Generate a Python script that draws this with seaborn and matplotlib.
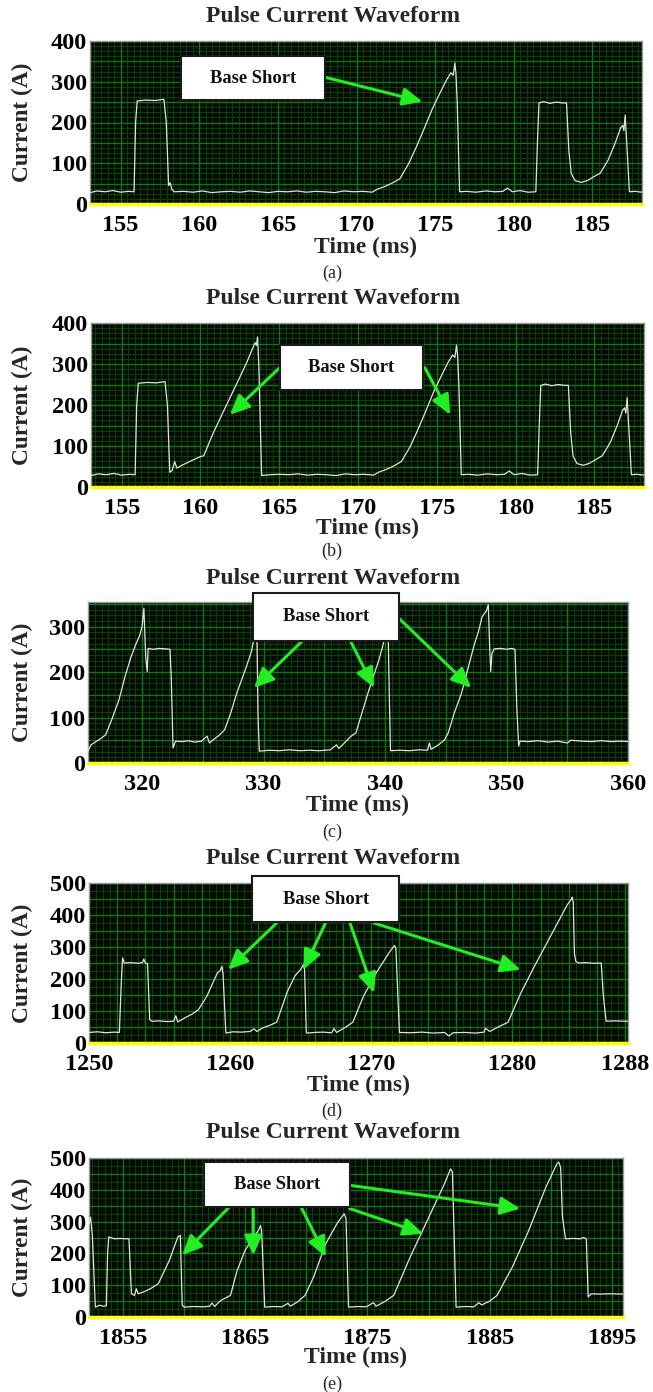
import numpy as np
import matplotlib
matplotlib.use("Agg")
import matplotlib.pyplot as plt
from matplotlib.patches import Rectangle
import seaborn as sns

# ---------------- data ----------------
t_a = [
    153.05, 153.5, 154.0, 154.5, 155.0, 155.5, 155.85, 155.95, 156.05, 156.6,
    157.2, 157.75, 157.9, 158.05, 158.15, 158.25, 158.4, 159.0, 159.6, 160.2,
    160.8, 161.4, 162.0, 162.6, 163.2, 163.8, 164.4, 165.0, 165.6, 166.2,
    166.8, 167.4, 168.0, 168.6, 169.2, 169.8, 170.4, 171.0, 171.3, 171.8,
    172.3, 172.75, 173.3, 173.8, 174.3, 174.8, 175.3, 175.7, 176.0, 176.15,
    176.25, 176.32, 176.4, 176.55, 177.0, 177.6, 178.2, 178.8, 179.3, 179.6,
    179.9, 180.4, 180.9, 181.4, 181.5, 181.6, 181.9, 182.3, 182.7, 183.1,
    183.35, 183.5, 183.65, 183.9, 184.3, 184.7, 185.0, 185.5, 186.0, 186.45,
    186.8, 186.92, 187.0, 187.08, 187.15, 187.35, 187.7, 188.15,
]
i_a = [
    28, 32, 30, 33, 29, 31, 30, 200, 253, 255,
    254, 257, 200, 45, 52, 36, 30, 31, 29, 32,
    28, 30, 31, 29, 32, 30, 28, 31, 30, 32,
    29, 31, 30, 28, 32, 30, 31, 29, 36, 43,
    52, 62, 98, 140, 185, 232, 272, 303, 322, 316,
    346, 320, 250, 30, 31, 29, 32, 30, 31, 39,
    30, 33, 29, 30, 150, 248, 251, 247, 250, 248,
    248, 130, 75, 57, 53, 58, 65, 76, 108, 150,
    188, 193, 180, 218, 170, 30, 31, 29,
]

t_b = [
    153.05, 153.5, 154.0, 154.5, 155.0, 155.5, 155.85, 155.95, 156.05, 156.6,
    157.2, 157.75, 157.9, 158.05, 158.2, 158.36, 158.5, 158.77, 159.3, 159.98,
    160.2, 160.8, 161.6, 162.4, 162.95, 163.35, 163.47, 163.55, 163.62, 163.7,
    163.88, 164.4, 165.0, 165.6, 166.2, 166.8, 167.4, 168.0, 168.6, 169.2,
    169.8, 170.4, 171.0, 171.3, 171.8, 172.3, 172.75, 173.3, 173.8, 174.3,
    174.8, 175.3, 175.7, 176.0, 176.15, 176.25, 176.32, 176.4, 176.55, 177.0,
    177.6, 178.2, 178.8, 179.3, 179.6, 179.9, 180.4, 180.9, 181.4, 181.5,
    181.6, 181.9, 182.3, 182.7, 183.1, 183.35, 183.5, 183.65, 183.9, 184.3,
    184.7, 185.0, 185.5, 186.0, 186.45, 186.8, 186.92, 187.0, 187.08, 187.15,
    187.35, 187.7, 188.15,
]
i_b = [
    28, 32, 30, 33, 29, 31, 30, 200, 253, 255,
    254, 257, 200, 36, 40, 62, 46, 52, 62, 74,
    76, 131, 196, 260, 305, 342, 352, 345, 366, 300,
    28, 30, 31, 30, 32, 29, 31, 30, 28, 32,
    30, 31, 29, 36, 43, 52, 62, 98, 140, 185,
    232, 272, 303, 322, 316, 346, 320, 250, 30, 31,
    29, 32, 30, 31, 39, 30, 33, 29, 30, 150,
    248, 251, 247, 250, 248, 248, 130, 75, 57, 53,
    58, 65, 76, 108, 150, 188, 193, 180, 218, 170,
    30, 31, 29,
]

t_c = [
    315.55, 315.8, 316.5, 317.0, 317.5, 318.1, 318.6, 319.1, 319.5, 319.8,
    320.0, 320.15, 320.3, 320.42, 320.5, 320.9, 321.4, 321.9, 322.3, 322.4,
    322.55, 322.75, 323.3, 323.8, 324.3, 324.9, 325.35, 325.55, 325.9, 326.3,
    326.8, 327.3, 327.8, 328.5, 329.0, 329.3, 329.45, 329.55, 329.65, 330.5,
    331.3, 332.1, 333.0, 333.8, 334.6, 335.5, 336.0, 336.2, 336.8, 337.2,
    337.6, 338.1, 338.6, 339.1, 339.5, 339.8, 340.1, 340.25, 340.35, 340.45,
    341.2, 342.0, 342.8, 343.5, 343.65, 343.8, 344.4, 344.9, 345.2, 345.7,
    346.3, 346.8, 347.3, 347.7, 348.0, 348.35, 348.5, 348.62, 348.7, 348.8,
    349.0, 349.5, 350.0, 350.4, 350.7, 350.85, 351.0, 351.1, 351.8, 352.6,
    353.4, 354.2, 355.0, 355.3, 356.2, 357.0, 357.8, 358.6, 359.4, 360.0,
]
i_c = [
    26, 40, 52, 62, 95, 139, 190, 234, 262, 280,
    300, 340, 234, 201, 252, 250, 252, 251, 250, 190,
    33, 48, 47, 49, 46, 48, 59, 44, 52, 60,
    73, 110, 154, 205, 245, 285, 290, 100, 26, 28,
    27, 29, 27, 28, 27, 29, 40, 32, 48, 59,
    66, 110, 154, 195, 227, 256, 295, 300, 150, 27,
    28, 27, 29, 28, 44, 30, 40, 51, 66, 110,
    154, 205, 256, 290, 322, 335, 348, 250, 201, 241,
    251, 252, 250, 252, 250, 120, 37, 48, 47, 49,
    46, 48, 44, 50, 48, 47, 49, 47, 48, 47,
]

t_d = [
    1250.0, 1250.6, 1251.2, 1251.8, 1252.15, 1252.3, 1252.38, 1252.5, 1253.0, 1253.5,
    1253.8, 1253.88, 1254.0, 1254.15, 1254.3, 1254.45, 1255.0, 1255.5, 1256.0, 1256.15,
    1256.3, 1256.85, 1257.3, 1257.75, 1258.35, 1258.8, 1259.1, 1259.3, 1259.42, 1259.5,
    1259.7, 1260.2, 1260.8, 1261.4, 1261.7, 1261.9, 1262.3, 1262.8, 1263.3, 1263.7,
    1264.05, 1264.6, 1265.0, 1265.2, 1265.28, 1265.4, 1266.0, 1266.6, 1267.2, 1267.35,
    1267.55, 1268.2, 1268.7, 1269.45, 1270.35, 1271.25, 1271.65, 1271.75, 1272.0, 1272.8,
    1273.6, 1274.4, 1275.2, 1275.5, 1275.8, 1276.6, 1277.4, 1278.0, 1278.1, 1278.4,
    1279.0, 1279.7, 1280.6, 1281.5, 1282.7, 1283.9, 1284.2, 1284.25, 1284.32, 1284.4,
    1284.5, 1284.7, 1285.2, 1285.8, 1286.3, 1286.45, 1286.65, 1287.2, 1288.2,
]
i_d = [
    33, 35, 32, 34, 33, 200, 266, 250, 251, 249,
    252, 262, 250, 248, 73, 68, 69, 67, 68, 85,
    66, 80, 90, 104, 146, 190, 219, 226, 240, 215,
    31, 35, 34, 36, 44, 36, 47, 55, 65, 115,
    160, 210, 230, 245, 228, 31, 33, 34, 32, 45,
    33, 50, 65, 146, 219, 281, 305, 295, 33, 32,
    34, 31, 33, 22, 32, 33, 31, 34, 46, 36,
    50, 65, 156, 234, 333, 432, 450, 456, 440, 281,
    255, 250, 251, 249, 250, 150, 68, 69, 68,
]

t_e = [
    1852.23, 1852.35, 1852.5, 1852.65, 1852.75, 1853.1, 1853.4, 1853.65, 1853.75, 1853.85,
    1854.3, 1854.8, 1855.2, 1855.5, 1855.7, 1855.95, 1856.1, 1856.25, 1856.7, 1857.3,
    1857.9, 1858.8, 1859.5, 1859.7, 1859.85, 1860.0, 1860.8, 1861.6, 1862.1, 1862.3,
    1862.5, 1863.0, 1863.8, 1864.35, 1865.0, 1865.7, 1866.1, 1866.25, 1866.35, 1866.6,
    1867.3, 1868.0, 1868.5, 1868.7, 1869.3, 1869.9, 1870.6, 1871.6, 1872.5, 1873.1,
    1873.25, 1873.45, 1874.2, 1874.9, 1875.5, 1875.7, 1876.4, 1877.15, 1878.5, 1879.9,
    1881.3, 1881.8, 1881.95, 1882.25, 1883.0, 1883.7, 1884.1, 1884.35, 1885.0, 1885.6,
    1886.85, 1888.2, 1889.6, 1890.5, 1890.65, 1890.8, 1890.95, 1891.2, 1891.8, 1892.4,
    1892.7, 1892.9, 1893.05, 1893.3, 1894.0, 1894.8, 1895.9,
]
i_e = [
    293, 314, 260, 120, 31, 37, 34, 35, 200, 252,
    246, 247, 246, 246, 73, 68, 89, 73, 79, 90,
    105, 178, 252, 257, 37, 31, 33, 32, 34, 44,
    33, 52, 68, 147, 210, 252, 273, 288, 270, 31,
    33, 32, 43, 34, 48, 68, 126, 231, 293, 325,
    310, 31, 33, 32, 45, 34, 48, 68, 189, 304,
    419, 466, 455, 31, 33, 32, 45, 38, 50, 68,
    157, 273, 409, 482, 487, 470, 314, 246, 247, 246,
    250, 245, 63, 73, 72, 73, 72,
]

xticks_ab = [155, 160, 165, 170, 175, 180, 185]
xticks_c = [320, 330, 340, 350, 360]
xticks_d = [1250, 1260, 1270, 1280, 1288]
xticks_e = [1855, 1865, 1875, 1885, 1895]
yticks_ab = [0, 100, 200, 300, 400]
yticks_c = [0, 100, 200, 300]
yticks_de = [0, 100, 200, 300, 400, 500]

captions = ["(a)", "(b)", "(c)", "(d)", "(e)"]
title_text = "Pulse Current Waveform"
xlabel_text = "Time (ms)"
ylabel_text = "Current (A)"
note_text = "Base Short"

# arrows: (tail_x, tail_y, head_x, head_y) in data units
arrows_a = [(168.0, 311, 174.2, 251)]
arrows_b = [(165.03, 291, 161.86, 176), (174.24, 291, 175.85, 176)]
arrows_c = [(333.2, 268.5, 329.2, 165), (337.15, 268.5, 339.1, 165),
            (341.0, 322, 347.1, 165)]
arrows_d = [(1263.3, 375, 1259.85, 229), (1266.76, 375, 1265.2, 229),
            (1268.5, 375, 1270.2, 156), (1270.2, 375, 1280.6, 229)]
arrows_e = [(1863.65, 344, 1859.85, 194), (1865.66, 344, 1865.66, 194),
            (1869.6, 344, 1871.6, 189), (1873.55, 341, 1879.57, 262),
            (1873.55, 414, 1887.5, 341)]

# ---------------- style ----------------
sns.set_theme(style="white")
plt.rcParams["font.family"] = ["Liberation Serif", "DejaVu Serif"]
plt.rcParams["font.weight"] = "bold"

W, H = 653, 1392
fig = plt.figure(figsize=(W / 100, H / 100), dpi=100)
fig.patch.set_facecolor("white")

BG = "#020b02"
MAJ = "#0b7d0b"
MIN = "#0a420a"
TRACE = "#e2e2e2"
ARROW = "#22ee22"

panels = [
    dict(t=t_a, i=i_a, rect=(90, 41, 642, 204), xlim=(153.05, 188.15), ylim=(0, 400),
         xt=xticks_ab, yt=yticks_ab, gx=(5, 5 / 12), gy=(50, 12.5),
         box=(0.165, 0.635, 0.426, 0.905), arrows=arrows_a,
         ty=17, xly=247, cy=273),
    dict(t=t_b, i=i_b, rect=(91, 323, 644, 487), xlim=(153.05, 188.15), ylim=(0, 400),
         xt=xticks_ab, yt=yticks_ab, gx=(5, 5 / 12), gy=(50, 12.5),
         box=(0.341, 0.59, 0.60, 0.864), arrows=arrows_b,
         ty=298, xly=528, cy=551),
    dict(t=t_c, i=i_c, rect=(88, 602, 628, 763), xlim=(315.55, 360), ylim=(0, 354),
         xt=xticks_c, yt=yticks_c, gx=(5, 5 / 9), gy=(50, 12.5),
         box=(0.306, 0.758, 0.576, 1.056), arrows=arrows_c,
         ty=578, xly=805, cy=832),
    dict(t=t_d, i=i_d, rect=(89, 883, 628, 1043), xlim=(1250, 1288.2), ylim=(0, 500),
         xt=xticks_d, yt=yticks_de, gx=(2, 0.5), gy=(50, 25),
         box=(0.303, 0.756, 0.575, 1.044), arrows=arrows_d,
         ty=858, xly=1085, cy=1111),
    dict(t=t_e, i=i_e, rect=(89, 1158, 623, 1317), xlim=(1852.23, 1895.9), ylim=(0, 500),
         xt=xticks_e, yt=yticks_de, gx=(5, 0.5), gy=(50, 25),
         box=(0.215, 0.692, 0.489, 0.975), arrows=arrows_e,
         ty=1133, xly=1357, cy=1384),
]


def grid_lines(ax, lo, hi, step, vertical, color, lw):
    start = np.ceil(lo / step - 1e-9) * step
    vals = np.arange(start, hi + 1e-9, step)
    for v in vals:
        if vertical:
            ax.axvline(v, color=color, lw=lw, zorder=0.5)
        else:
            ax.axhline(v, color=color, lw=lw, zorder=0.5)


for p, cap in zip(panels, captions):
    l, t, r, b = p["rect"]
    ax = fig.add_axes([l / W, 1 - b / H, (r - l) / W, (b - t) / H])
    ax.set_facecolor(BG)
    x0, x1 = p["xlim"]
    y0, y1 = p["ylim"]
    # oscilloscope grid
    grid_lines(ax, x0, x1, p["gx"][1], True, MIN, 0.7)
    grid_lines(ax, y0, y1, p["gy"][1], False, MIN, 0.7)
    grid_lines(ax, x0, x1, p["gx"][0], True, MAJ, 0.9)
    grid_lines(ax, y0, y1, p["gy"][0], False, MAJ, 0.9)

    sns.lineplot(x=p["t"], y=p["i"], ax=ax, color=TRACE, lw=0.9,
                 estimator=None, sort=False, zorder=3)

    ax.set_xlim(x0, x1)
    ax.set_ylim(y0, y1)
    ax.set_xticks(p["xt"])
    ax.set_yticks(p["yt"])
    ax.set_xticklabels([str(v) for v in p["xt"]])
    ax.set_yticklabels([str(v) for v in p["yt"]])
    ax.tick_params(axis="both", length=0, labelsize=17.5, colors="black")
    ax.tick_params(axis="x", pad=8)
    ax.tick_params(axis="y", pad=2)
    for lab in ax.get_xticklabels() + ax.get_yticklabels():
        lab.set_fontweight("bold")
    ax.set_xlabel("")
    ax.set_ylabel("")
    ax.grid(False)

    for s in ("top", "left", "right"):
        ax.spines[s].set_color("#9a9a9a")
        ax.spines[s].set_linewidth(1.0)
        ax.spines[s].set_visible(True)
    ax.spines["bottom"].set_color("#ffff00")
    ax.spines["bottom"].set_linewidth(2.5)
    ax.spines["bottom"].set_visible(True)

    # arrows
    for (tx, ty_, hx, hy) in p["arrows"]:
        ax.annotate("", xy=(hx, hy), xytext=(tx, ty_), annotation_clip=False,
                    arrowprops=dict(arrowstyle="-|>,head_length=1.0,head_width=0.45",
                                    mutation_scale=12, color=ARROW, lw=2.2,
                                    shrinkA=0, shrinkB=0),
                    zorder=5)

    # annotation box
    bx0, by0, bx1, by1 = p["box"]
    ax.add_patch(Rectangle((bx0, by0), bx1 - bx0, by1 - by0, transform=ax.transAxes,
                           facecolor="white", edgecolor="#1a1a1a", lw=1.5,
                           clip_on=False, zorder=6))
    ax.text((bx0 + bx1) / 2, (by0 + by1) / 2, note_text, transform=ax.transAxes,
            ha="center", va="center", fontsize=13.3, fontweight="bold",
            color="#111111", zorder=7)

    # titles and labels
    fig.text(333 / W, 1 - p["ty"] / H, title_text, ha="center", va="center",
             fontsize=17, fontweight="bold")
    fig.text(((l + r) / 2) / W, 1 - p["xly"] / H, xlabel_text, ha="center",
             va="center", fontsize=17, fontweight="bold")
    fig.text(22 / W, 1 - ((t + b) / 2) / H, ylabel_text, ha="center", va="center",
             rotation=90, fontsize=16.8, fontweight="bold")
    fig.text(332 / W, 1 - p["cy"] / H, cap, ha="center", va="center",
             fontsize=13, fontweight="normal")

fig.savefig("out.png", dpi=100, facecolor="white")
